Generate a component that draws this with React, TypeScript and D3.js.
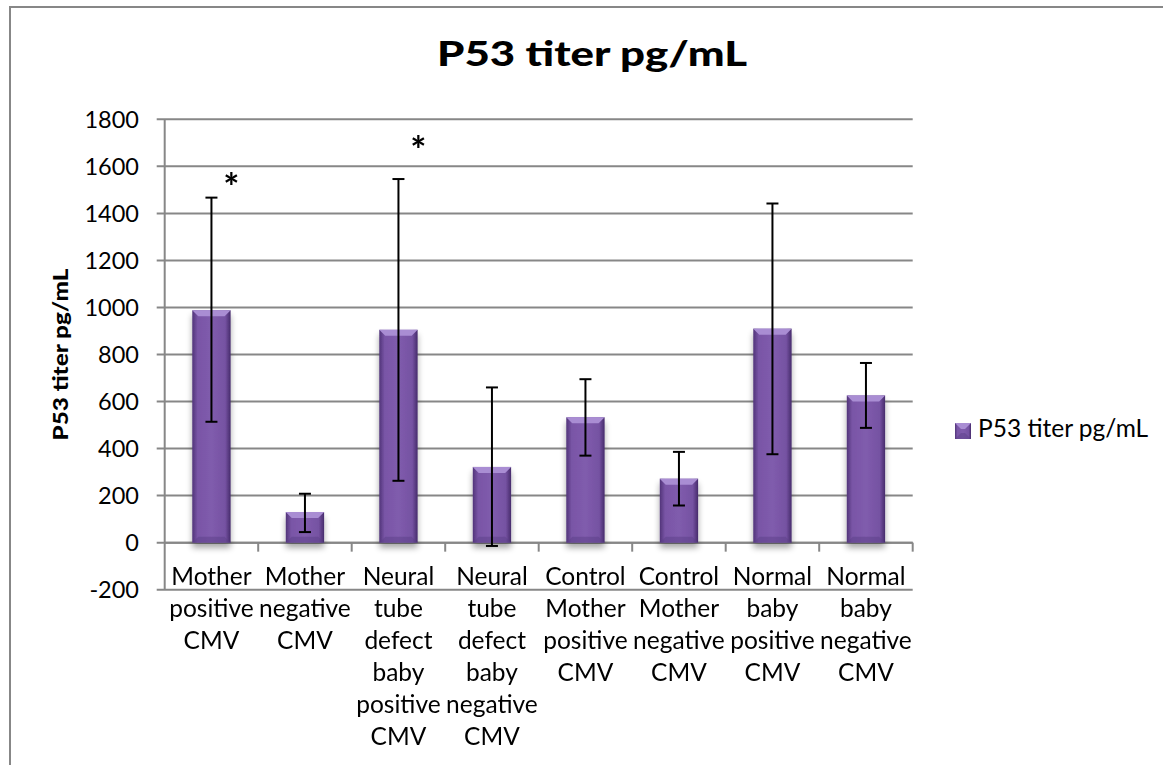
import React from "react";
import * as d3 from "d3";

// group names, already wrapped the way the original chart shows them
const categories = [
  ["Mother", "positive", "CMV"],
  ["Mother", "negative", "CMV"],
  ["Neural", "tube", "defect", "baby", "positive", "CMV"],
  ["Neural", "tube", "defect", "baby", "negative", "CMV"],
  ["Control", "Mother", "positive", "CMV"],
  ["Control", "Mother", "negative", "CMV"],
  ["Normal", "baby", "positive", "CMV"],
  ["Normal", "baby", "negative", "CMV"],
];
const means = [988, 130, 905, 322, 533, 272, 910, 626];
const errHigh = [1467, 208, 1546, 660, 695, 386, 1442, 764];
const errLow = [514, 45, 263, -14, 370, 158, 376, 488];
// asterisks: category index and the value at the glyph centre
const sigIndex = [0, 2];
const sigValue = [1535, 1690];
const yTicks = [-200, 0, 200, 400, 600, 800, 1000, 1200, 1400, 1600, 1800];
const seriesName = "P53 titer pg/mL";

const W = 1163;
const H = 765;
const FONT = "Lato, 'Open Sans', sans-serif";

export default function App() {
  const keys = categories.map((c) => c.join(" "));
  const left = 164.7;
  const right = 912.7;

  const x = d3
    .scaleBand<string>()
    .domain(keys)
    .range([left, right])
    .paddingInner(0.59)
    .paddingOuter(0.295);

  const y = d3.scaleLinear().domain([-200, 1800]).range([589.7, 119.3]);

  const step = x.step();
  const bw = x.bandwidth();
  const grid = "#878787";

  const bevel = (bx: number, top: number, w: number, h: number, key: string) => {
    const b = Math.min(6, h / 2, w / 2);
    return (
      <g key={key}>
        <rect x={bx} y={top} width={w} height={h} fill="url(#barGrad)" />
        <polygon
          points={`${bx},${top} ${bx + w},${top} ${bx + w - b},${top + b} ${bx + b},${top + b}`}
          fill="#a98dd3"
        />
        <polygon
          points={`${bx},${top + h} ${bx + w},${top + h} ${bx + w - b},${top + h - b} ${bx + b},${top + h - b}`}
          fill="#5c3f88"
          opacity={0.5}
        />
      </g>
    );
  };

  return (
    <svg
      width={W}
      height={H}
      style={{ position: "absolute", left: 0, top: 0, background: "#fff" }}
    >
      <defs>
        <linearGradient id="barGrad" x1="0" x2="1" y1="0" y2="0">
          <stop offset="0" stopColor="#513479" />
          <stop offset="0.14" stopColor="#7955a6" />
          <stop offset="0.5" stopColor="#805cad" />
          <stop offset="0.86" stopColor="#7552a2" />
          <stop offset="1" stopColor="#462b6b" />
        </linearGradient>
        <filter id="shadow" x="-30%" y="-10%" width="160%" height="130%">
          <feGaussianBlur in="SourceAlpha" stdDeviation="3" />
          <feOffset dx="0" dy="5" result="b" />
          <feComponentTransfer>
            <feFuncA type="linear" slope="0.35" />
          </feComponentTransfer>
          <feMerge>
            <feMergeNode />
            <feMergeNode in="SourceGraphic" />
          </feMerge>
        </filter>
      </defs>

      {/* outer chart frame */}
      <rect x={10} y={7} width={1170} height={780} fill="#fff" stroke={grid} strokeWidth={2} />

      {/* title */}
      <text
        x={592}
        y={66}
        textAnchor="middle"
        fontFamily={FONT}
        fontWeight={900}
        fontSize={34}
        textLength={310}
        lengthAdjust="spacingAndGlyphs"
        fill="#000"
      >
        {seriesName}
      </text>

      {/* gridlines + y ticks */}
      {yTicks.map((t) => (
        <g key={t}>
          <line x1={left - 8} x2={right} y1={y(t)} y2={y(t)} stroke={grid} strokeWidth={2} />
          <text
            x={139}
            y={y(t)}
            dy="0.35em"
            textAnchor="end"
            fontFamily={FONT}
            fontSize={23.5}
            fill="#000"
          >
            {t}
          </text>
        </g>
      ))}
      <line x1={left} x2={left} y1={y(1800)} y2={y(-200)} stroke={grid} strokeWidth={2} />

      {/* category axis at zero with tick marks between groups */}
      <line x1={left} x2={right} y1={y(0)} y2={y(0)} stroke={grid} strokeWidth={2} />
      {keys.map((k, i) => (
        <line
          key={k}
          x1={left + step * (i + 1)}
          x2={left + step * (i + 1)}
          y1={y(0)}
          y2={y(0) + 9}
          stroke={grid}
          strokeWidth={2}
        />
      ))}

      {/* bars */}
      <g filter="url(#shadow)">
        {means.map((v, i) => {
          const bx = x(keys[i])!;
          const top = y(v);
          return bevel(bx, top, bw, y(0) - top, keys[i]);
        })}
      </g>

      {/* error bars */}
      {means.map((_, i) => {
        const cx = x(keys[i])! + bw / 2;
        return (
          <g key={keys[i]} stroke="#000" strokeWidth={2}>
            <line x1={cx} x2={cx} y1={y(errHigh[i])} y2={y(errLow[i])} />
            <line x1={cx - 6} x2={cx + 6} y1={y(errHigh[i])} y2={y(errHigh[i])} />
            <line x1={cx - 6} x2={cx + 6} y1={y(errLow[i])} y2={y(errLow[i])} />
          </g>
        );
      })}

      {/* significance asterisks */}
      {sigIndex.map((ci, j) => (
        <text
          key={ci}
          x={x(keys[ci])! + bw / 2 + 20}
          y={y(sigValue[j]) + 19}
          textAnchor="middle"
          fontFamily={FONT}
          fontWeight="bold"
          fontSize={38}
          fill="#000"
        >
          *
        </text>
      ))}

      {/* category labels */}
      {categories.map((lines, i) => (
        <text
          key={keys[i]}
          textAnchor="middle"
          fontFamily={FONT}
          fontSize={24.5}
          fill="#000"
        >
          {lines.map((ln, j) => (
            <tspan key={j} x={x(keys[i])! + bw / 2} y={585 + j * 32}>
              {ln}
            </tspan>
          ))}
        </text>
      ))}

      {/* y axis title */}
      <text
        transform={`translate(68,${(y(1800) + y(-200)) / 2}) rotate(-90)`}
        textAnchor="middle"
        fontFamily={FONT}
        fontWeight={900}
        fontSize={21}
        textLength={172}
        lengthAdjust="spacingAndGlyphs"
        fill="#000"
      >
        {seriesName}
      </text>

      {/* legend */}
      {bevel(955, 423, 16, 16, "legend")}
      <text x={978} y={437} fontFamily={FONT} fontSize={24.5} fill="#000">
        {seriesName}
      </text>
    </svg>
  );
}
